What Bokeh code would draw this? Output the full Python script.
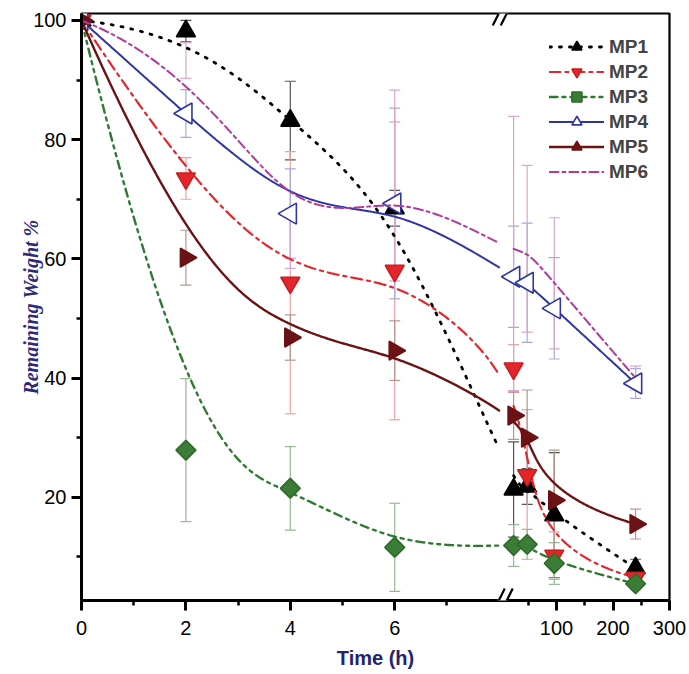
import numpy as np
from bokeh.plotting import figure
from bokeh.models import (ColumnDataSource, Whisker, TeeHead, FixedTicker,
                          CustomJSTickFormatter, Legend, LegendItem, Range1d, Arrow)
from bokeh.embed import file_html
from bokeh.resources import INLINE

# ---------------- data ----------------
time_h = [0, 2, 4, 6, 24, 48, 96, 240]

mp1 = [100, 98.2, 83.2, 68.5, 21.3, 21.8, 17.0, 8.1]
mp1_err = [0, 1.8, 6.6, 3.0, 8.0, 3.0, 10.5, 1.5]
mp2 = [100, 73.5, 56.0, 58.0, 41.6, 23.7, 10.2, 6.5]
mp2_err = [0, 3.5, 22.0, 25.0, 4.0, 11.0, 4.0, 1.0]
mp3 = [100, 27.9, 21.5, 11.6, 11.9, 12.1, 8.9, 5.5]
mp3_err = [0, 12.0, 7.0, 7.4, 3.5, 2.5, 3.5, 1.0]
mp4 = [100, 84.4, 67.6, 69.3, 57.0, 56.0, 51.7, 39.1]
mp4_err = [0, 4.0, 7.5, 16.0, 8.5, 10.0, 8.5, 2.5]
mp5 = [100, 60.2, 46.8, 44.6, 33.7, 30.0, 19.5, 15.5]
mp5_err = [0, 4.6, 3.8, 5.0, 4.0, 8.0, 8.4, 2.5]
mp6 = [100, 93.3, 63.4, 72.3, 60.9, 61.7, 55.9, 40.0]
mp6_err = [0, 3.0, 5.0, 16.0, 23.0, 14.0, 11.0, 2.0]

series_names = ["MP1", "MP2", "MP3", "MP4", "MP5", "MP6"]

x_ticks_lo = [0, 2, 4, 6]
x_minor_lo = [1, 3, 5, 7]
x_ticks_hi = [100, 200, 300]
x_minor_hi = [50, 150, 250]
y_ticks = [20, 40, 60, 80, 100]
y_minor = [10, 30, 50, 70, 90]

# ---------------- broken x axis: piecewise mapping ----------------
SEG1_END = 8.0      # first segment 0..8 h (linear)
BREAK_U = 8.07      # position of the break marks
U100 = 9.10         # display position of 100 h in the second segment
K2 = 0.01082        # display units per hour in the second segment


def to_u(t):
    t = np.asarray(t, dtype=float)
    return np.where(t <= SEG1_END, t, U100 + (t - 100.0) * K2)


def bspline(xs, ys, samples=700):
    P = np.column_stack([xs, ys]).astype(float)
    m, k = len(P), 3
    knots = np.r_[np.zeros(k), np.arange(m - k + 1), np.full(k, m - k)]
    out = []
    for t in np.linspace(0, m - k, samples):
        s = m - 1 if t >= knots[m] else np.searchsorted(knots, t, side="right") - 1
        d = [P[j + s - k].copy() for j in range(k + 1)]
        for r in range(1, k + 1):
            for j in range(k, r - 1, -1):
                den = knots[j + 1 + s - r] - knots[j + s - k]
                a = 0.0 if den == 0 else (t - knots[j + s - k]) / den
                d[j] = (1 - a) * d[j - 1] + a * d[j]
        out.append(d[k])
    return np.array(out)


W, H = 689, 674
BL, BR, BT, BB = 81, 20, 13, 74
X_END = float(to_u(300))
Y0, Y1 = 2.68, 101.17

p = figure(width=W, height=H, output_backend="svg", toolbar_location=None,
           x_range=Range1d(0, X_END), y_range=Range1d(Y0, Y1),
           min_border_left=BL, min_border_right=BR, min_border_top=BT,
           min_border_bottom=BB)
p.grid.visible = False
p.outline_line_color = "black"
p.outline_line_width = 2.2
p.background_fill_color = "white"

styles = [
    dict(color="black", dash="2 8", width=2.8, marker="triangle", size=19,
         fill="black", line="black", angle=0.0, err="#555555"),
    dict(color="#e3262b", dash="11 5 3 5", width=2.2, marker="inverted_triangle", size=19,
         fill="#e3262b", line="#c81e22", angle=0.0, err="#e8a3a3"),
    dict(color="#2e7a32", dash="8 5 3 5 3 5", width=2.4, marker="square", size=14,
         fill="#3b7d36", line="#2e6b2a", angle=np.pi / 4, err="#98b898"),
    dict(color="#2f36a2", dash="solid", width=2.0, marker="triangle", size=21,
         fill="white", line="#2f36a2", angle=np.pi / 2, err="#a9a9d6"),
    dict(color="#6b1214", dash="solid", width=2.4, marker="triangle", size=19,
         fill="#6b1214", line="#6b1214", angle=-np.pi / 2, err="#b8968e"),
    dict(color="#b2399c", dash="9 4 3 4", width=2.0, marker="hexagon", size=17,
         fill="#b2399c", line="#b2399c", angle=0.0, err="#d9a6cf"),
]

values = [mp1, mp2, mp3, mp4, mp5, mp6]
errors = [mp1_err, mp2_err, mp3_err, mp4_err, mp5_err, mp6_err]

u_pts = to_u(time_h)
u24 = float(to_u(24))

items = []
for name, vals, errs, st in zip(series_names, values, errors, styles):
    v = np.array(vals, dtype=float)
    e = np.array(errs, dtype=float)
    src = ColumnDataSource(dict(u=u_pts, v=v))
    mask = e > 0
    esrc = ColumnDataSource(dict(u=u_pts[mask], lo=(v - e)[mask], hi=(v + e)[mask]))
    wh = Whisker(base="u", lower="lo", upper="hi", source=esrc, level="underlay",
                 line_color=st["err"], line_width=1.2,
                 upper_head=TeeHead(size=11, line_color=st["err"], line_width=1.2),
                 lower_head=TeeHead(size=11, line_color=st["err"], line_width=1.2))
    p.add_layout(wh)

    curve = bspline(u_pts, v)
    cx, cy = curve[:, 0].copy(), curve[:, 1].copy()
    gap = (cx > SEG1_END) & (cx < u24)
    cx[gap] = np.nan
    cy[gap] = np.nan
    lr = p.line(cx, cy, line_color=st["color"], line_width=st["width"],
                line_dash=st["dash"], line_cap="round")
    sr = p.scatter("u", "v", source=src, marker=st["marker"], size=st["size"],
                   fill_color=st["fill"], line_color=st["line"], line_width=1.6,
                   angle=st["angle"])
    items.append(LegendItem(label=name, renderers=[lr, sr]))

legend = Legend(items=items, location="top_right", border_line_color=None,
                background_fill_alpha=0, label_text_font="Liberation Sans",
                label_text_font_style="bold", label_text_font_size="19px",
                glyph_width=55, glyph_height=25, label_height=25, spacing=0,
                label_standoff=5, padding=4, margin=21)
p.add_layout(legend)

# ---------------- axes ----------------
xticks = [float(t) for t in x_ticks_lo] + [float(u) for u in to_u(x_ticks_hi)]
xminor = [float(t) for t in x_minor_lo] + [float(u) for u in to_u(x_minor_hi)]
p.xaxis.ticker = FixedTicker(ticks=xticks, minor_ticks=xminor)
p.xaxis.formatter = CustomJSTickFormatter(
    args=dict(u100=U100, k=K2, seg=SEG1_END),
    code="if (tick <= seg + 0.5) { return tick.toFixed(0); } "
         "return Math.round((tick - u100) / k + 100).toFixed(0);")
p.yaxis.ticker = FixedTicker(ticks=y_ticks, minor_ticks=y_minor)

for ax in (p.xaxis[0], p.yaxis[0]):
    ax.axis_line_width = 3
    ax.axis_line_color = "black"
    ax.major_tick_line_width = 3
    ax.major_tick_out = 10
    ax.major_tick_in = 0
    ax.minor_tick_line_width = 2.5
    ax.minor_tick_out = 5
    ax.minor_tick_in = 0
    ax.major_label_text_font = "Liberation Sans"
    ax.major_label_text_color = "black"
    ax.major_label_text_font_size = "20px"

p.xaxis.major_label_standoff = 10
p.yaxis.major_label_standoff = 5
p.xaxis.axis_label = "Time (h)"
p.xaxis.axis_label_text_font = "Liberation Sans"
p.xaxis.axis_label_text_font_style = "bold"
p.xaxis.axis_label_text_font_size = "20px"
p.xaxis.axis_label_text_color = "#24236e"
p.xaxis.axis_label_standoff = 9
p.yaxis.axis_label = "Remaining Weight %"
p.yaxis.axis_label_text_font = "Liberation Serif"
p.yaxis.axis_label_text_font_style = "bold italic"
p.yaxis.axis_label_text_font_size = "20px"
p.yaxis.axis_label_text_color = "#2e2a78"
p.yaxis.axis_label_standoff = -12

# ---------------- axis-break marks (decoration, screen-sized) ----------------
fw = W - BL - BR
fh = H - BT - BB
dxp = X_END / fw           # data units per pixel (x)
dyp = (Y1 - Y0) / fh       # data units per pixel (y)
for yb in (Y0, Y1):
    p.add_layout(Arrow(x_start=BREAK_U - 5 * dxp, y_start=yb, x_end=BREAK_U + 5 * dxp,
                       y_end=yb, start=None, end=None, line_color="white",
                       line_width=6, level="overlay"))
    for off in (-4, 4):
        p.add_layout(Arrow(x_start=BREAK_U + (off - 6) * dxp, y_start=yb - 12 * dyp,
                           x_end=BREAK_U + (off + 6) * dxp, y_end=yb + 12 * dyp,
                           start=None, end=None, line_color="black", line_width=2.2,
                           level="overlay"))

open("out.html", "w").write(file_html(p, INLINE))
